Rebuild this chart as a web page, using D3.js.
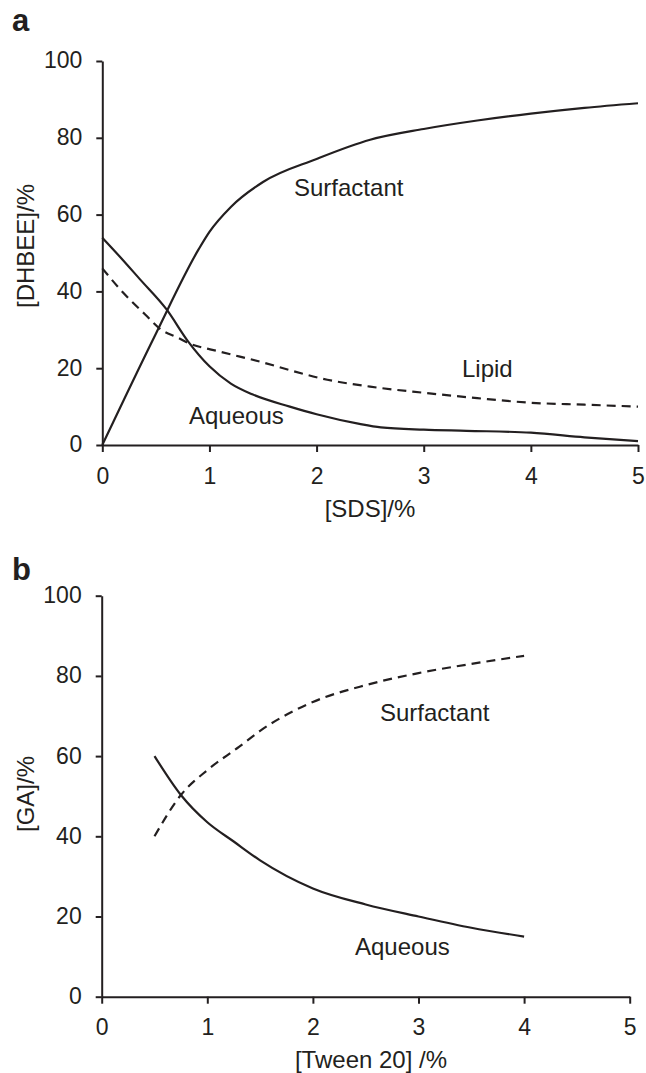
<!DOCTYPE html>
<html>
<head>
<meta charset="utf-8">
<script src="https://cdn.jsdelivr.net/npm/d3@7"></script>
<style>
  body { margin: 0; background: #fff; }
  text { font-family: "Liberation Sans", Arial, Helvetica, sans-serif; fill: #231f20; }
</style>
</head>
<body>
<div id="chart"></div>
<script>
// panel a: DHBEE partitioning vs SDS
var sdsAqueous = [[0,54],[0.1,51],[0.35,43.2],[0.6,35.3],[0.8,27],[1,20.5],[1.2,16],[1.4,13.2],[1.75,10],[2,8],[2.4,5.5],[2.6,4.6],[3,4],[3.4,3.7],[4,3.2],[4.5,2],[5,1]];
var sdsSurfactant = [[0,0],[0.5,29],[0.9,51],[1,55.5],[1.2,62],[1.5,68.5],[2,74.5],[2.5,79.5],[3,82.3],[3.5,84.5],[4,86.3],[4.5,87.8],[5,89]];
var sdsLipid = [[0,46],[0.2,39.5],[0.4,34],[0.55,30],[0.7,28],[0.8,26.6],[1.1,24.3],[1.5,21.5],[1.75,19.5],[2.1,17],[2.5,15.2],[3,13.6],[3.5,12.2],[4,11],[4.5,10.5],[5,10]];

// panel b: GA partitioning vs Tween 20
var tweenAqueous = [[0.5,60],[0.75,50.3],[1,43.5],[1.25,38.7],[1.5,34],[2,27],[2.5,23],[3,20],[3.5,17.2],[4,15]];
var tweenSurfactant = [[0.5,40],[0.75,50.3],[1,56.5],[1.3,62.3],[1.5,66.3],[2,73.5],[2.5,77.7],[3,80.7],[3.5,83],[4,85]];

var xTicks = [0, 1, 2, 3, 4, 5];
var yTicks = [0, 20, 40, 60, 80, 100];

var W = 646, H = 1073;
var svg = d3.select("#chart").append("svg")
    .attr("width", W)
    .attr("height", H);

function panel(opt) {
    var x = d3.scaleLinear().domain([0, 5]).range([opt.left, opt.right]);
    var y = d3.scaleLinear().domain([0, 100]).range([opt.bottom, opt.top]);
    var g = svg.append("g");

    var xAxis = g.append("g")
        .attr("transform", "translate(0," + opt.bottom + ")")
        .call(d3.axisBottom(x).tickValues(xTicks).tickFormat(d3.format("d")).tickSize(7).tickPadding(opt.xPad).tickSizeOuter(0));
    var yAxis = g.append("g")
        .attr("transform", "translate(" + opt.left + ",0)")
        .call(d3.axisLeft(y).tickValues(yTicks).tickSize(6).tickPadding(14).tickSizeOuter(0));

    [xAxis, yAxis].forEach(function(a) {
        a.select(".domain").attr("stroke", "#231f20").attr("stroke-width", 2);
        a.selectAll(".tick line").attr("stroke", "#231f20").attr("stroke-width", 2);
        a.selectAll(".tick text").style("font-size", "23px").attr("fill", "#231f20");
    });
    yAxis.selectAll(".tick text").attr("dy", "0.3em");

    var line = d3.line()
        .x(function(d) { return x(d[0]); })
        .y(function(d) { return y(d[1]); })
        .curve(d3.curveMonotoneX);

    opt.series.forEach(function(s) {
        g.append("path")
            .datum(s.data)
            .attr("fill", "none")
            .attr("stroke", "#231f20")
            .attr("stroke-width", 2.2)
            .attr("stroke-dasharray", s.dashed ? "9,6" : null)
            .attr("d", line);
        g.append("text")
            .attr("x", s.lx)
            .attr("y", s.ly)
            .style("font-size", "24px")
            .text(s.name);
    });

    g.append("text")
        .attr("x", opt.xTitleX)
        .attr("y", opt.xTitleY)
        .attr("text-anchor", "middle")
        .style("font-size", "24px")
        .text(opt.xTitle);

    g.append("text")
        .attr("transform", "translate(34," + opt.yTitleY + ") rotate(-90)")
        .attr("text-anchor", "middle")
        .style("font-size", "24px")
        .text(opt.yTitle);

    g.append("text")
        .attr("x", 12)
        .attr("y", opt.letterY)
        .style("font-size", "31px")
        .style("font-weight", "bold")
        .text(opt.letter);
}

panel({
    left: 102.3, right: 638, top: 61, bottom: 445, xPad: 16,
    xTitle: "[SDS]/%", xTitleX: 370, xTitleY: 517, yTitle: "[DHBEE]/%", yTitleY: 246,
    letter: "a", letterY: 31,
    series: [
        { name: "Surfactant", data: sdsSurfactant, lx: 294, ly: 196 },
        { name: "Lipid", data: sdsLipid, dashed: true, lx: 462, ly: 377 },
        { name: "Aqueous", data: sdsAqueous, lx: 189, ly: 424 }
    ]
});

panel({
    left: 101.7, right: 629.7, top: 595.7, bottom: 996.7, xPad: 15,
    xTitle: "[Tween 20] /%", xTitleX: 371, xTitleY: 1068, yTitle: "[GA]/%", yTitleY: 794,
    letter: "b", letterY: 580,
    series: [
        { name: "Surfactant", data: tweenSurfactant, dashed: true, lx: 380, ly: 721 },
        { name: "Aqueous", data: tweenAqueous, lx: 355, ly: 955 }
    ]
});
</script>
</body>
</html>
